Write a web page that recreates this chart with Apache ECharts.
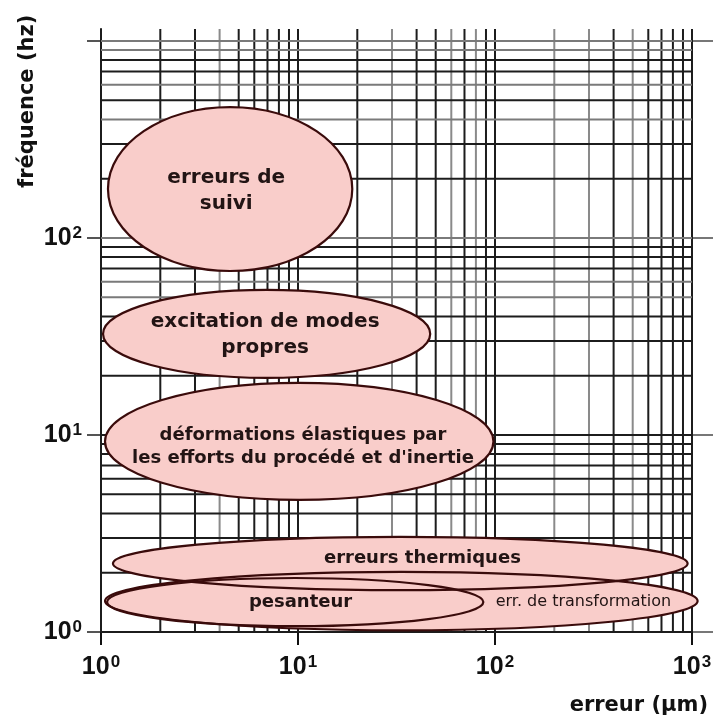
<!DOCTYPE html>
<html>
<head>
<meta charset="utf-8">
<script src="https://cdn.jsdelivr.net/npm/echarts@6/dist/echarts.min.js"></script>
<style>
  html, body { margin: 0; padding: 0; background: #fff; }
  #chart { width: 715px; height: 718px; }
</style>
</head>
<body>
<div id="chart"></div>
<script>
// lignes du papier log-log (valeurs, pas des pixels)
const grilleX = [1, 2, 3, 4, 5, 6, 7, 8, 9, 10, 20, 30, 40, 50, 60, 70, 80, 90, 100, 200, 300, 400, 500, 600, 700, 800, 900, 1000];
const grilleY = [1, 2, 3, 4, 5, 6, 7, 8, 9, 10, 20, 30, 40, 50, 60, 70, 80, 90, 100, 200, 300, 400, 500, 600, 700, 800, 900, 1000];
const claireX = [4, 30, 60, 80, 200, 300, 500];
const claireY = [1000, 900, 600, 400, 100, 50, 60];
const ticksX = [1, 10, 100, 1000];
const ticksY = [1, 10, 100];

// zones : bornes en erreur (µm) et fréquence (hz)
const zones = ["erreurs thermiques", "err. de transformation", "pesanteur", "déformations élastiques par\nles efforts du procédé et d'inertie", "excitation de modes\npropres", "erreurs de\nsuivi"];
const erreurMin = [1.15, 1.048, 1.073, 1.048, 1.024, 1.085];
const erreurMax = [950, 1068, 87.3, 98.2, 46.9, 18.86];
const freqMin = [1.63, 1.02, 1.07, 4.68, 19.5, 68.0];
const freqMax = [3.04, 2.02, 1.88, 18.4, 54.5, 462];
// position des textes
const texteX = [42.8, 281, 10.3, 10.6, 6.81, 4.32];
const texteY = [2.375, 1.42, 1.42, 8.74, 32.4, 173];
const texteTaille = [18, 16, 18, 18, 20, 20];
const texteGras = ['bold', 'normal', 'bold', 'bold', 'bold', 'bold'];

const chart = echarts.init(document.getElementById('chart'));

const puissance = (v) => '{b|10}{s|' + Math.round(Math.log10(v)) + '}';
const richLabel = {
  b: { fontSize: 25, fontWeight: 'bold', fontFamily: 'Liberation Sans', color: '#111' },
  s: { fontSize: 17, fontWeight: 'bold', fontFamily: 'Liberation Sans', color: '#111', verticalAlign: 'top', padding: [0, 0, 10, 1] }
};

const ellipseData = zones.map((z, i) => [erreurMin[i], erreurMax[i], freqMin[i], freqMax[i], texteX[i], texteY[i], i]);

const option = {
  animation: false,
  backgroundColor: '#fff',
  grid: { left: 101, right: 23, top: 29, bottom: 86 },
  xAxis: {
    type: 'log', logBase: 10, min: 1, max: 1000,
    axisLine: { show: true, lineStyle: { color: '#111', width: 2 } },
    axisTick: { show: true, length: 13, lineStyle: { color: '#111', width: 2 }, customValues: ticksX },
    axisLabel: { margin: 22, formatter: puissance, rich: richLabel, customValues: ticksX },
    splitLine: { show: false }
  },
  yAxis: [{
    type: 'log', logBase: 10, min: 1, max: 1151,
    axisLine: { show: true, lineStyle: { color: '#111', width: 2 } },
    axisTick: { show: true, length: 14, lineStyle: { color: '#555', width: 2 }, customValues: [1, 10, 100, 1000] },
    axisLabel: { margin: 19, formatter: puissance, rich: richLabel, customValues: ticksY },
    splitLine: { show: false }
  }, {
    type: 'log', logBase: 10, min: 1, max: 1151, position: 'right',
    axisLine: { show: false },
    axisTick: { show: true, length: 21, lineStyle: { color: '#777', width: 2 }, customValues: [1, 10, 100, 1000] },
    axisLabel: { show: false },
    splitLine: { show: false }
  }],
  graphic: [
    { type: 'text', rotation: Math.PI / 2, x: 17, y: 188,
      style: { text: 'fréquence (hz)', font: 'bold 21px "DejaVu Sans"', fill: '#111' } },
    { type: 'text', right: 7, bottom: 2,
      style: { text: 'erreur (µm)', font: 'bold 21px "DejaVu Sans"', fill: '#111' } }
  ],
  series: [
    {
      name: 'grilleX', type: 'custom', z: 1, silent: true, clip: false,
      data: grilleX.map(v => [v]),
      renderItem: (params, api) => {
        const cs = params.coordSys;
        const v = api.value(0);
        const p = api.coord([v, 1]);
        return {
          type: 'line',
          shape: { x1: p[0], y1: cs.y, x2: p[0], y2: cs.y + cs.height },
          style: { stroke: claireX.indexOf(v) >= 0 ? '#8a8a8a' : '#1c1c1c', lineWidth: 2 }
        };
      }
    },
    {
      name: 'grilleY', type: 'custom', z: 1, silent: true, clip: false,
      data: grilleY.map(v => [1, v]),
      renderItem: (params, api) => {
        const cs = params.coordSys;
        const v = api.value(1);
        const p = api.coord([1, v]);
        return {
          type: 'line',
          shape: { x1: cs.x, y1: p[1], x2: cs.x + cs.width, y2: p[1] },
          style: { stroke: claireY.indexOf(v) >= 0 ? '#7a7a7a' : '#1c1c1c', lineWidth: 2 }
        };
      }
    },
    {
      name: 'zones', type: 'custom', z: 3, silent: true, clip: false,
      data: ellipseData,
      renderItem: (params, api) => {
        const a = api.coord([api.value(0), api.value(2)]);
        const b = api.coord([api.value(1), api.value(3)]);
        const t = api.coord([api.value(4), api.value(5)]);
        const i = api.value(6);
        const cx = (a[0] + b[0]) / 2, cy = (a[1] + b[1]) / 2;
        const rx = Math.abs(b[0] - a[0]) / 2, ry = Math.abs(b[1] - a[1]) / 2;
        return {
          type: 'group',
          children: [
            { type: 'ellipse', z2: 1, shape: { cx, cy, rx, ry }, style: { fill: '#f9cdca', stroke: null } },
            { type: 'ellipse', z2: 20, shape: { cx, cy, rx, ry }, style: { fill: null, stroke: '#3a0b0b', lineWidth: 2.2 } },
            { type: 'text', z2: 40, x: t[0], y: t[1],
              style: { text: zones[i], fill: '#221414', align: 'center', verticalAlign: 'middle',
                font: texteGras[i] + ' ' + texteTaille[i] + 'px "DejaVu Sans"', lineHeight: Math.round(texteTaille[i] * 1.3) } }
          ]
        };
      }
    }
  ]
};

chart.setOption(option);
</script>
</body>
</html>
